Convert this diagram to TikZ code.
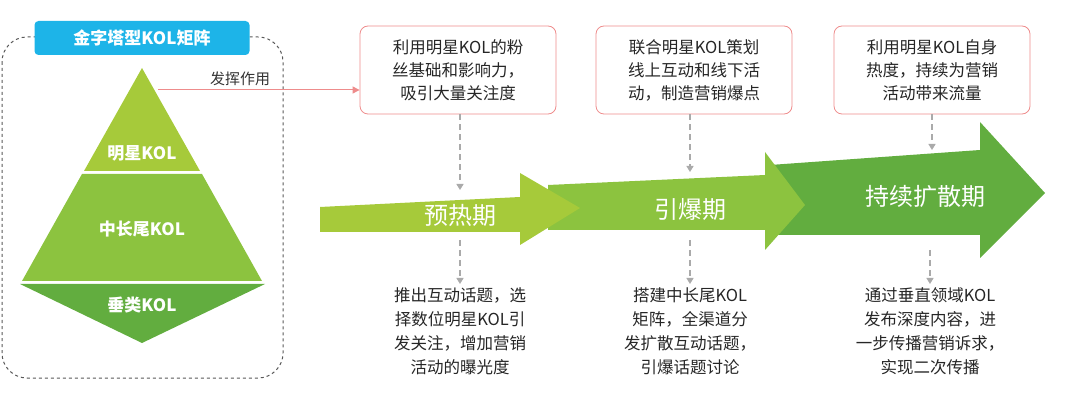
\documentclass[tikz,border=0pt]{standalone}
\usepackage{fontspec}
\setmainfont{Noto Sans CJK SC}
\usetikzlibrary{arrows.meta}
\definecolor{gA}{HTML}{A6CA3A}
\definecolor{gB}{HTML}{8CC33F}
\definecolor{gC}{HTML}{62AD3F}
\definecolor{blueL}{HTML}{1DB4E8}
\definecolor{pinkB}{HTML}{EE8C8C}
\definecolor{grayD}{HTML}{AAAAAA}
\tikzset{
  topbox/.style={draw=pinkB,rounded corners=8pt,line width=0.8pt,minimum width=196pt,minimum height=88pt,align=center,font=\fontsize{16.5}{23}\selectfont,text=black!85},
  bottxt/.style={align=center,font=\fontsize{16.5}{24}\selectfont,text=black!85,anchor=north},
  gdash/.style={draw=grayD,dash pattern=on 6pt off 4pt,line width=1.3pt,-{Triangle[width=7pt,length=6pt]}},
  tier/.style={text=white,font=\bfseries\fontsize{17}{18}\selectfont},
  phase/.style={text=white,font=\fontsize{24}{26}\selectfont}
}
\begin{document}
\begin{tikzpicture}[x=1pt,y=-1pt]
\useasboundingbox (0,0) rectangle (1077,406);
\draw[black!65,dashed,line width=1pt,rounded corners=25pt] (2,37) rectangle (283,378);
\node[fill=blueL,rounded corners=4pt,minimum width=215pt,minimum height=34pt,text=white,font=\bfseries\fontsize{17}{18}\selectfont] (title) at (142,38) {金字塔型KOL矩阵};
\fill[gA] (142,68) -- (200,171) -- (84,171) -- cycle;
\fill[gB] (82,174) -- (202,174) -- (262,281) -- (22,281) -- cycle;
\fill[gC] (20,284) -- (265,284) -- (142,343) -- cycle;
\node[tier] (t1) at (142,153) {明星KOL};
\node[tier] (t2) at (142,229) {中长尾KOL};
\node[tier] (t3) at (142,305) {垂类KOL};
\coordinate (ps) at (158,90);
\fill[gC] (770,165) -- (980,150) -- (980,122) -- (1045,193) -- (980,258) -- (980,235) -- (770,235) -- cycle;
\fill[gB] (548,185) -- (765,175) -- (765,152) -- (805,205) -- (765,250) -- (765,230) -- (548,230) -- cycle;
\fill[gA] (320,207) -- (520,197) -- (520,173) -- (580,208) -- (520,245) -- (520,232) -- (320,232) -- cycle;
\node[phase] (p1) at (460,215) {预热期};
\node[phase] (p2) at (690,209) {引爆期};
\node[phase] (p3) at (925,196) {持续扩散期};
\node[topbox] (b1) at (458,70) {利用明星KOL的粉\\丝基础和影响力，\\吸引大量关注度};
\node[topbox] (b2) at (694,70) {联合明星KOL策划\\线上互动和线下活\\动，制造营销爆点};
\node[topbox] (b3) at (932,70) {利用明星KOL自身\\热度，持续为营销\\活动带来流量};
\draw[pinkB,line width=1pt,-{Triangle[width=7pt,length=7pt]}] (ps) -- (b1.west |- ps);
\node[font=\fontsize{15}{16}\selectfont,text=black!80] (lab) at (240,79) {发挥作用};
\coordinate (a1) at (460,190); \coordinate (a2) at (690,172); \coordinate (a3) at (932,150);
\draw[gdash] (b1.south -| a1) -- (a1);
\draw[gdash] (b2.south -| a2) -- (a2);
\draw[gdash] (b3.south -| a3) -- (a3);
\node[bottxt] (c1) at (460,284) {推出互动话题，选\\择数位明星KOL引\\发关注，增加营销\\活动的曝光度};
\node[bottxt] (c2) at (690,284) {搭建中长尾KOL\\矩阵，全渠道分\\发扩散互动话题，\\引爆话题讨论};
\node[bottxt] (c3) at (930,284) {通过垂直领域KOL\\发布深度内容，进\\一步传播营销诉求，\\实现二次传播};
\coordinate (d1) at (460,240); \coordinate (d2) at (690,240); \coordinate (d3) at (930,250);
\draw[gdash] (d1) -- (c1.north);
\draw[gdash] (d2) -- (c2.north);
\draw[gdash] (d3) -- (c3.north);
\end{tikzpicture}
\end{document}
